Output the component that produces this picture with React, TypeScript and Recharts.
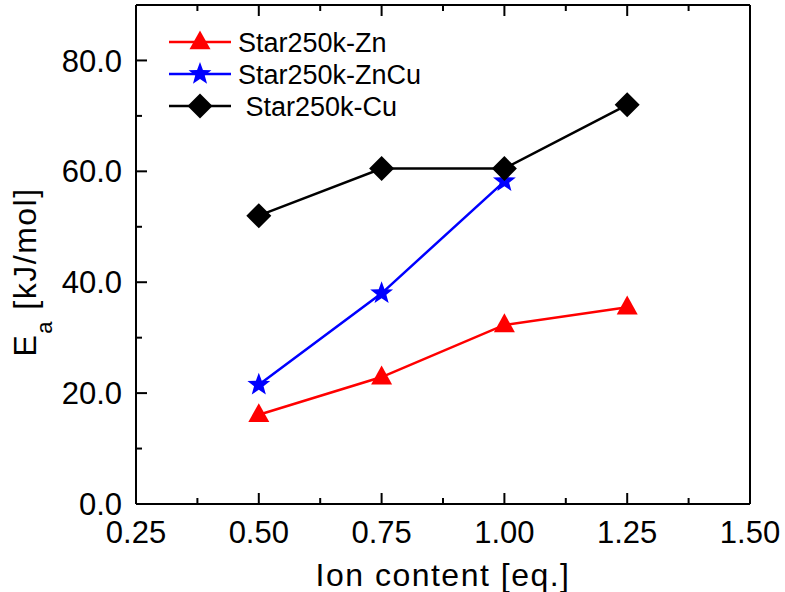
import React from 'react';
import { LineChart, Line, XAxis, YAxis, Legend } from 'recharts';

const ionContent = [0.5, 0.75, 1.0, 1.25];
const znValues = [16.1, 22.9, 32.3, 35.5];
const znCuValues = [21.5, 38.0, 58.2, null];
const cuValues = [52.0, 60.5, 60.5, 72.0];

const xTicks = [0.25, 0.375, 0.5, 0.625, 0.75, 0.875, 1.0, 1.125, 1.25, 1.375, 1.5];
const yTicks = [0, 10, 20, 30, 40, 50, 60, 70, 80];

const FONT = '"Liberation Sans", Arial, sans-serif';
const W = 785;
const H = 592;

const data = ionContent.map((x, i) => ({
  x,
  zn: znValues[i],
  zncu: znCuValues[i],
  cu: cuValues[i],
}));

const series = [
  { key: 'zn', name: 'Star250k-Zn', color: '#ff0000', shape: 'triangle' },
  { key: 'zncu', name: 'Star250k-ZnCu', color: '#0000ff', shape: 'star' },
  { key: 'cu', name: ' Star250k-Cu', color: '#000000', shape: 'diamond' },
];

const isMajorX = (v: number) => Math.abs((v / 0.25) - Math.round(v / 0.25)) < 1e-6;
const isMajorY = (v: number) => v % 20 === 0;

const Marker = ({ cx, cy, shape, color }: any) => {
  if (cx == null || cy == null) return null;
  if (shape === 'triangle') {
    const s = 10.5;
    return <polygon points={`${cx},${cy - s * 1.1} ${cx - s},${cy + s * 0.7} ${cx + s},${cy + s * 0.7}`} fill={color} />;
  }
  if (shape === 'diamond') {
    const s = 12.5;
    return <polygon points={`${cx},${cy - s} ${cx + s},${cy} ${cx},${cy + s} ${cx - s},${cy}`} fill={color} />;
  }
  const pts: string[] = [];
  for (let i = 0; i < 10; i++) {
    const r = i % 2 === 0 ? 12 : 5;
    const a = -Math.PI / 2 + (i * Math.PI) / 5;
    pts.push(`${cx + r * Math.cos(a)},${cy + r * Math.sin(a)}`);
  }
  return <polygon points={pts.join(' ')} fill={color} />;
};

const BottomTick = ({ x, y, payload }: any) => {
  const major = isMajorX(payload.value);
  return (
    <g>
      <line x1={x} y1={y} x2={x} y2={y - (major ? 11 : 6)} stroke="#000" strokeWidth={2} />
      {major && (
        <text x={x} y={y + 39} textAnchor="middle" fontSize={31} fontFamily={FONT} fill="#000">
          {payload.value.toFixed(2)}
        </text>
      )}
    </g>
  );
};

const TopTick = ({ x, y, payload }: any) => (
  <line x1={x} y1={y} x2={x} y2={y + (isMajorX(payload.value) ? 11 : 6)} stroke="#000" strokeWidth={2} />
);

const LeftTick = ({ x, y, payload }: any) => {
  const major = isMajorY(payload.value);
  return (
    <g>
      <line x1={x} y1={y} x2={x + (major ? 11 : 6)} y2={y} stroke="#000" strokeWidth={2} />
      {major && (
        <text x={x - 14} y={y} dy="0.36em" textAnchor="end" fontSize={31} fontFamily={FONT} fill="#000">
          {payload.value.toFixed(1)}
        </text>
      )}
    </g>
  );
};

const RightTick = ({ x, y, payload }: any) => (
  <line x1={x} y1={y} x2={x - (isMajorY(payload.value) ? 11 : 6)} y2={y} stroke="#000" strokeWidth={2} />
);

const LegendBox = () => (
  <svg width={270} height={110} style={{ display: 'block' }}>
    {series.map((s, i) => {
      const cy = 22 + i * 32;
      return (
        <g key={s.key}>
          <line x1={9} y1={cy} x2={71} y2={cy} stroke={s.color} strokeWidth={2.5} />
          <Marker cx={40} cy={cy} shape={s.shape} color={s.color} />
          <text x={78} y={cy + 10} fontSize={27} fontFamily={FONT} fill="#000" style={{ whiteSpace: 'pre' }}>
            {s.name}
          </text>
        </g>
      );
    })}
  </svg>
);

export default function App() {
  return (
    <div style={{ position: 'absolute', left: 0, top: 0, width: W, height: H, background: '#fff' }}>
      <LineChart width={W} height={H} data={data} margin={{ top: 4, right: 34, left: 0, bottom: 0 }}>
        <XAxis
          dataKey="x"
          type="number"
          domain={[0.25, 1.5]}
          ticks={xTicks}
          interval={0}
          height={88}
          tickSize={0}
          tickMargin={0}
          tickLine={false}
          axisLine={{ stroke: '#000', strokeWidth: 2 }}
          tick={<BottomTick />}
          label={{
            content: () => (
              <text x={443} y={586} textAnchor="middle" fontSize={32} fontFamily={FONT} fill="#000" letterSpacing={1.5}>
                Ion content [eq.]
              </text>
            ),
          }}
        />
        <XAxis
          xAxisId="top"
          orientation="top"
          dataKey="x"
          type="number"
          domain={[0.25, 1.5]}
          ticks={xTicks}
          interval={0}
          height={1}
          tickSize={0}
          tickMargin={0}
          tickLine={false}
          axisLine={{ stroke: '#000', strokeWidth: 2 }}
          tick={<TopTick />}
        />
        <YAxis
          type="number"
          domain={[0, 90]}
          ticks={yTicks}
          interval={0}
          width={136}
          tickSize={0}
          tickMargin={0}
          tickLine={false}
          axisLine={{ stroke: '#000', strokeWidth: 2 }}
          tick={<LeftTick />}
          label={{
            content: () => (
              <text
                transform="translate(36,272) rotate(-90)"
                textAnchor="middle"
                fontSize={32}
                fontFamily={FONT}
                fill="#000"
                letterSpacing={1.5}
              >
                E<tspan fontSize={22} dy={16}>a</tspan>
                <tspan dy={-16}> [kJ/mol]</tspan>
              </text>
            ),
          }}
        />
        <YAxis
          yAxisId="right"
          orientation="right"
          type="number"
          domain={[0, 90]}
          ticks={yTicks}
          interval={0}
          width={1}
          tickSize={0}
          tickMargin={0}
          tickLine={false}
          axisLine={{ stroke: '#000', strokeWidth: 2 }}
          tick={<RightTick />}
        />
        <Legend
          layout="vertical"
          align="center"
          verticalAlign="middle"
          wrapperStyle={{ left: 160, top: 20, width: 'auto' }}
          content={<LegendBox />}
        />
        {series.map((s) => (
          <Line
            key={s.key}
            dataKey={s.key}
            name={s.name}
            type="linear"
            stroke={s.color}
            strokeWidth={2.5}
            isAnimationActive={false}
            dot={(p: any) => <Marker key={`${s.key}-${p.index}`} cx={p.cx} cy={p.cy} shape={s.shape} color={s.color} />}
            activeDot={false}
          />
        ))}
      </LineChart>
    </div>
  );
}
